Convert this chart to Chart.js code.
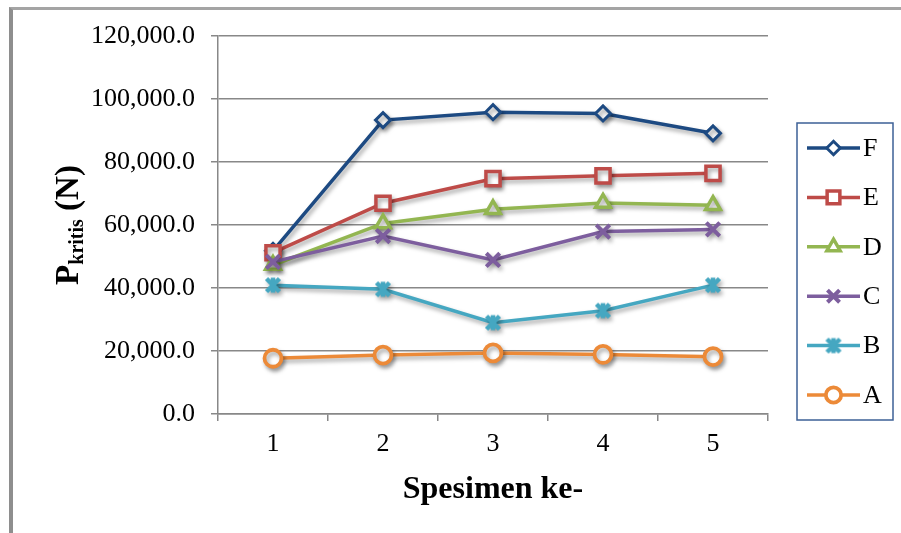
<!DOCTYPE html>
<html>
<head>
<meta charset="utf-8">
<script src="https://cdn.jsdelivr.net/npm/chart.js@4.4.1/dist/chart.umd.min.js"></script>
<style>
  html, body { margin: 0; padding: 0; background: #fff; overflow: hidden; }
  #wrap { position: relative; width: 901px; height: 533px; overflow: hidden; }
  #frame { position: absolute; left: 9px; top: 7px; width: 1000px; height: 1000px;
           border-left: 4px solid #8e8e8e; border-top: 3px solid #a4a4a4; box-sizing: border-box; }
  #c { position: absolute; left: 0; top: 0; }
</style>
</head>
<body>
<div id="wrap">
  <div id="frame"></div>
  <canvas id="c" width="901" height="533"></canvas>
</div>
<script>
// Specimen numbers along the x axis
const categories = ['1', '2', '3', '4', '5'];

// Critical load per specimen (N)
const seriesF = [51800, 93300, 95800, 95400, 89100];
const seriesE = [51200, 66900, 74700, 75600, 76400];
const seriesD = [47300, 60500, 65000, 67000, 66300];
const seriesC = [48300, 56500, 48900, 57900, 58600];
const seriesB = [40900, 39600, 29000, 32800, 40900];
const seriesA = [17700, 18700, 19400, 18900, 18200];

const seriesNames = ['F', 'E', 'D', 'C', 'B', 'A'];

const yMin = 0;
const yMax = 120000;
const yStep = 20000;

const xTitle = 'Spesimen ke-';
const yTitleMain = 'P';
const yTitleSub = 'kritis';
const yTitleTail = ' (N)';

const SERIF = '"Liberation Serif", "Times New Roman", serif';

// Asterisk-style marker (X with a vertical bar)
function asteriskMarker(color) {
  const s = 20, c = document.createElement('canvas');
  c.width = s; c.height = s;
  const g = c.getContext('2d');
  g.strokeStyle = color; g.lineWidth = 4.5; g.lineCap = 'butt';
  g.beginPath();
  g.moveTo(3.5, 3.5); g.lineTo(16.5, 16.5);
  g.moveTo(16.5, 3.5); g.lineTo(3.5, 16.5);
  g.moveTo(10, 2.5); g.lineTo(10, 17.5);
  g.stroke();
  return c;
}

const colF = '#1D4A82', colE = '#BE4B48', colD = '#93B651', colC = '#7D5E9E', colB = '#45A7C1', colA = '#EC8A38';

function line(label, data, color, style, radius, bw, order) {
  return {
    label, data, order,
    borderColor: color, backgroundColor: '#ffffff',
    borderWidth: 3.5, tension: 0,
    pointStyle: style, pointRadius: radius, pointHoverRadius: radius,
    pointBorderColor: color, pointBackgroundColor: '#ffffff',
    pointBorderWidth: bw
  };
}

const datasets = [
  line(seriesNames[0], seriesF, colF, 'rectRot', 7.5, 3, 6),
  line(seriesNames[1], seriesE, colE, 'rect', 10, 3.5, 5),
  line(seriesNames[2], seriesD, colD, 'triangle', 8.5, 3.5, 4),
  line(seriesNames[3], seriesC, colC, 'crossRot', 9.5, 4, 3),
  line(seriesNames[4], seriesB, colB, asteriskMarker(colB), 10, 0, 2),
  line(seriesNames[5], seriesA, colA, 'circle', 8.5, 3.8, 1)
];

// Soft drop shadow under lines and markers
const shadowPlugin = {
  id: 'dropShadow',
  beforeDatasetDraw(chart) {
    const ctx = chart.ctx;
    ctx.save();
    ctx.shadowColor = 'rgba(0,0,0,0.35)';
    ctx.shadowBlur = 4;
    ctx.shadowOffsetX = 2;
    ctx.shadowOffsetY = 3;
  },
  afterDatasetDraw(chart) { chart.ctx.restore(); }
};

// Axis titles (the y title carries a subscript)
const titlePlugin = {
  id: 'axisTitles',
  afterDraw(chart) {
    const ctx = chart.ctx, area = chart.chartArea;
    ctx.save();
    ctx.fillStyle = '#000';
    ctx.textBaseline = 'alphabetic';
    ctx.textAlign = 'center';
    ctx.font = 'bold 32px ' + SERIF;
    ctx.fillText(xTitle, (area.left + area.right) / 2, 498);

    ctx.translate(78, (area.top + area.bottom) / 2);
    ctx.rotate(-Math.PI / 2);
    ctx.textAlign = 'left';
    const fMain = 'bold 33px ' + SERIF, fSub = 'bold 20px ' + SERIF;
    ctx.font = fMain; const wP = ctx.measureText(yTitleMain).width;
    const wT = ctx.measureText(yTitleTail).width;
    ctx.font = fSub; const wS = ctx.measureText(yTitleSub).width;
    let x = -(wP + wS + wT) / 2;
    ctx.font = fMain; ctx.fillText(yTitleMain, x, 0); x += wP;
    ctx.font = fSub; ctx.fillText(yTitleSub, x, 5); x += wS;
    ctx.font = fMain; ctx.fillText(yTitleTail, x, 0);
    ctx.restore();
  }
};

// Boxed legend: line sample with marker, then the series name
const legendPlugin = {
  id: 'boxLegend',
  afterDraw(chart) {
    const ctx = chart.ctx;
    const left = 797, top = 123, right = 893, bottom = 420;
    ctx.save();
    ctx.strokeStyle = '#3D6096';
    ctx.lineWidth = 1.5;
    ctx.strokeRect(left, top, right - left, bottom - top);
    const ds = chart.data.datasets;
    const step = (395 - 148) / (ds.length - 1);
    ds.forEach((d, i) => {
      const y = 148 + i * step;
      ctx.strokeStyle = d.borderColor;
      ctx.lineWidth = 3.5;
      ctx.beginPath(); ctx.moveTo(807, y); ctx.lineTo(860, y); ctx.stroke();
      ctx.fillStyle = d.pointBackgroundColor;
      ctx.strokeStyle = d.pointBorderColor;
      ctx.lineWidth = d.pointBorderWidth;
      Chart.helpers.drawPoint(ctx, {
        pointStyle: d.pointStyle, rotation: 0,
        radius: d.pointRadius * 0.9, borderWidth: d.pointBorderWidth
      }, 833.5, y);
      ctx.fillStyle = '#000';
      ctx.font = '26px ' + SERIF;
      ctx.textBaseline = 'middle';
      ctx.textAlign = 'left';
      ctx.fillText(d.label, 863, y + 1);
    });
    ctx.restore();
  }
};

const gridColor = '#888888';

new Chart(document.getElementById('c'), {
  type: 'line',
  data: { labels: categories, datasets },
  plugins: [shadowPlugin, titlePlugin, legendPlugin],
  options: {
    responsive: false,
    animation: false,
    devicePixelRatio: 1,
    layout: { padding: { left: 0, top: 36, right: 133, bottom: 0 } },
    plugins: { legend: { display: false }, tooltip: { enabled: false }, title: { display: false } },
    scales: {
      x: {
        offset: true,
        grid: { display: true, offset: true, drawOnChartArea: false, drawTicks: true,
                tickLength: 7, color: gridColor, lineWidth: 1.5 },
        border: { display: true, color: gridColor, width: 1.5 },
        ticks: { color: '#000', font: { family: SERIF, size: 26 }, padding: 8 },
        afterFit(scale) { scale.height = 533 - 414; }
      },
      y: {
        min: yMin, max: yMax,
        ticks: {
          stepSize: yStep, color: '#000', padding: 16,
          font: { family: SERIF, size: 26 },
          callback: v => Number(v).toLocaleString('en-US', { minimumFractionDigits: 1, maximumFractionDigits: 1 })
        },
        grid: { color: gridColor, lineWidth: 1.5, tickLength: 7, drawTicks: true },
        border: { display: true, color: gridColor, width: 1.5 },
        afterFit(scale) { scale.width = 218; }
      }
    }
  }
});
</script>
</body>
</html>
